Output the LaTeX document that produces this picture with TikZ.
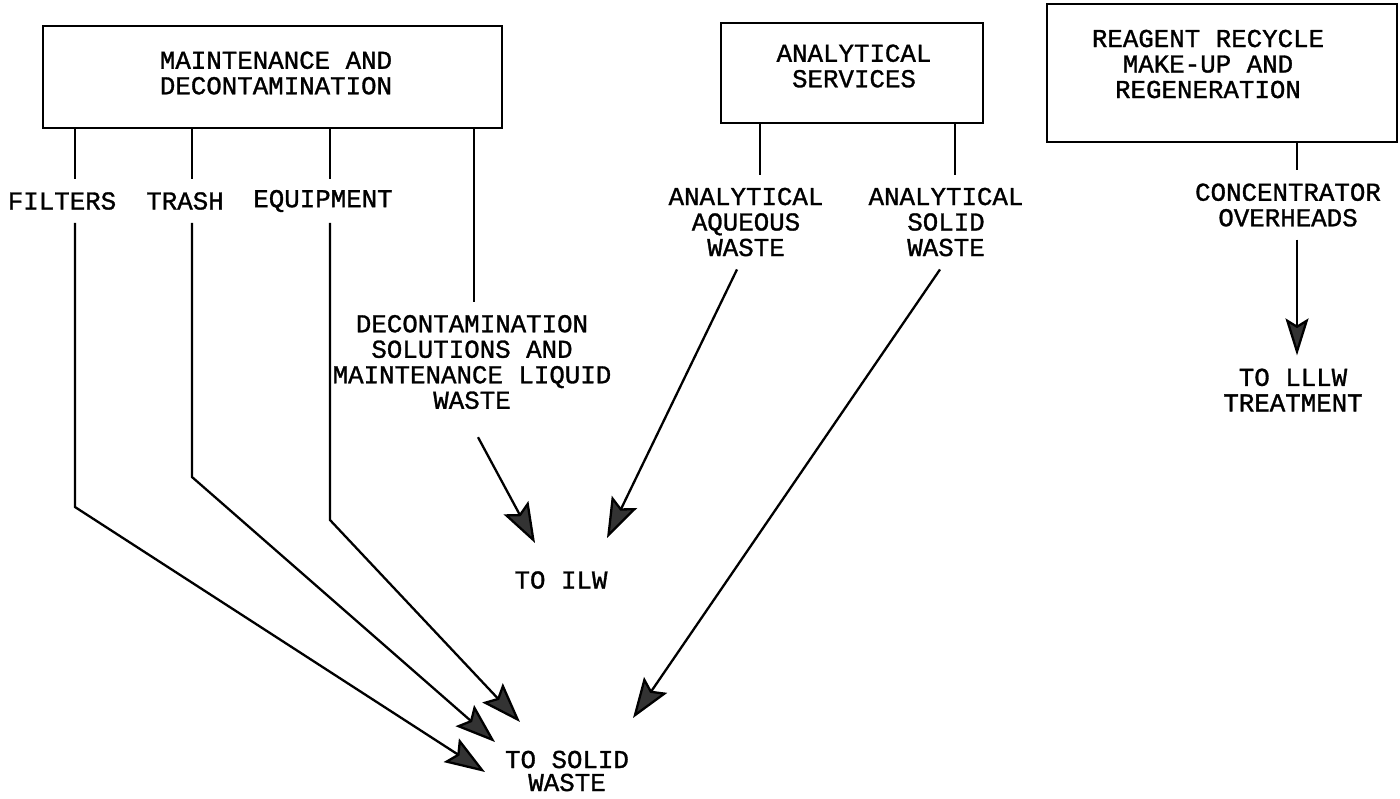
\documentclass[tikz,border=0pt]{standalone}
\usepackage{fontspec}
\newfontfamily\typewr[FakeBold=1.2]{Liberation Mono}
\usetikzlibrary{arrows.meta}

\tikzset{
  box/.style={draw, line width=2.8pt, inner sep=0pt, outer sep=0pt},
  txt/.style={font=\typewr\fontsize{25.8pt}{25.5pt}\selectfont, align=center, inner xsep=2pt, inner ysep=13pt},
  wire/.style={line width=2.3pt},
  arr/.style={line width=2.3pt, -{Stealth[length=40pt,width=28pt,inset=7pt,fill=black!80]}},
}

\begin{document}
\begin{tikzpicture}[x=1pt,y=-1pt]
\useasboundingbox (0,0) rectangle (1400,798);
% source boxes
\node[box, minimum width=459pt, minimum height=102pt] (maint) at (272.5,77) {};
\node[txt] (mainttxt) at (276,73) {MAINTENANCE AND\\DECONTAMINATION};
\node[box, minimum width=262pt, minimum height=100pt] (anal) at (852,73) {};
\node[txt] (analtxt) at (854,66) {ANALYTICAL\\SERVICES};
\node[box, minimum width=350pt, minimum height=138pt] (reag) at (1222,73) {};
\node[txt] (reagtxt) at (1208,64) {REAGENT RECYCLE\\MAKE-UP AND\\REGENERATION};

% drop points on the boxes
\coordinate (m1) at ([xshift=32pt]maint.south west);
\coordinate (m2) at ([xshift=149pt]maint.south west);
\coordinate (m3) at ([xshift=287pt]maint.south west);
\coordinate (m4) at ([xshift=431pt]maint.south west);
\coordinate (a1) at ([xshift=39pt]anal.south west);
\coordinate (a2) at ([xshift=234pt]anal.south west);
\coordinate (r1) at ([xshift=250pt]reag.south west);

% stream labels
\node[txt] (filt) at (62,201) {FILTERS};
\node[txt] (trash) at (185,201) {TRASH};
\node[txt] (equip) at (323,201) {EQUIPMENT};
\node[txt] (decon) at (472,362) {DECONTAMINATION\\SOLUTIONS AND\\MAINTENANCE LIQUID\\WASTE};
\node[txt] (aqu) at (746,222) {ANALYTICAL\\AQUEOUS\\WASTE};
\node[txt] (sol) at (946,222) {ANALYTICAL\\SOLID\\WASTE};
\node[txt] (conc) at (1288,205) {CONCENTRATOR\\OVERHEADS};

% destinations
\node[txt] (ilw) at (561,580) {TO ILW};
\node[txt, font=\typewr\fontsize{25.8pt}{23pt}\selectfont, inner ysep=4pt] (solid) at (567,771) {TO SOLID\\WASTE};
\node[txt] (lllw) at (1293,390) {TO LLLW\\TREATMENT};

% bends and arrow ends
\coordinate (fbend) at (m1 |- 0,507);
\coordinate (tbend) at (m2 |- 0,477);
\coordinate (ebend) at (m3 |- 0,520);
\coordinate (sw1) at (485,772);
\coordinate (sw2) at (495,742);
\coordinate (sw3) at (520,722);
\coordinate (sw4) at (633,718);
\coordinate (ilw1) at (535,543);
\coordinate (ilw2) at (607,538);

\draw[wire] (m1) -- (m1 |- filt.north);
\draw[wire] (m2) -- (m2 |- filt.north);
\draw[wire] (m3) -- (m3 |- filt.north);
\draw[wire] (m4) -- (m4 |- decon.north);
\draw[wire] (a1) -- (a1 |- aqu.north);
\draw[wire] (a2) -- (a2 |- sol.north);
\draw[wire] (r1) -- (r1 |- conc.north);

\draw[arr] (m1 |- filt.south) -- (fbend) -- (sw1);
\draw[arr] (m2 |- filt.south) -- (tbend) -- (sw2);
\draw[arr] (m3 |- filt.south) -- (ebend) -- (sw3);
\draw[arr] ([xshift=-6pt]sol.south) -- (sw4);
\draw[arr] ([xshift=6pt,yshift=-15pt]decon.south) -- (ilw1);
\draw[arr] ([xshift=-9pt]aqu.south) -- (ilw2);
\draw[arr, -{Stealth[length=37pt,width=23pt,inset=7pt,fill=black!80]}] (r1 |- conc.south) -- (r1 |- lllw.north);
\end{tikzpicture}
\end{document}
